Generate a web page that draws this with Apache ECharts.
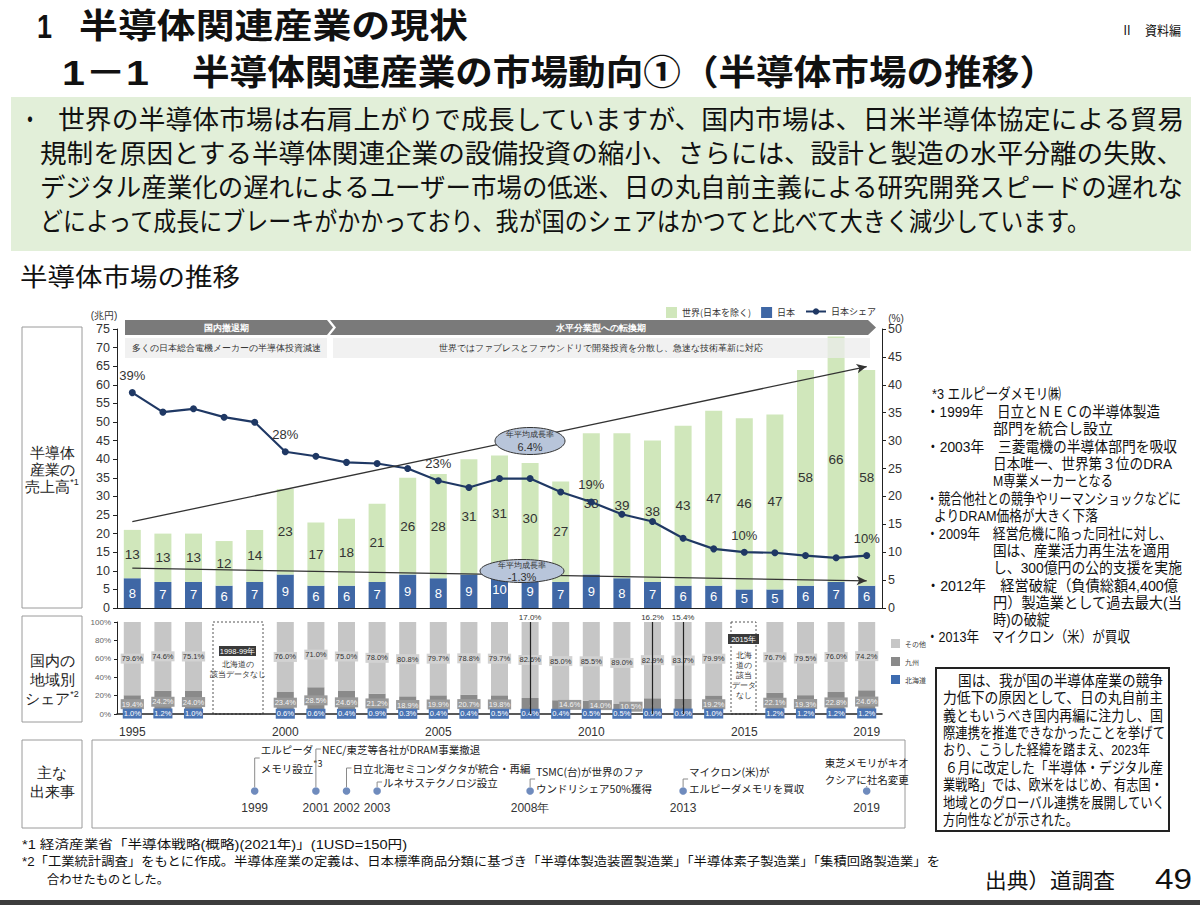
<!DOCTYPE html>
<html><head><meta charset="utf-8">
<script src="https://cdn.jsdelivr.net/npm/echarts@6/dist/echarts.min.js"></script>
<style>
html,body{margin:0;padding:0;background:#fff;}
#wrap{position:relative;width:1200px;height:905px;overflow:hidden;font-family:'Liberation Sans','Noto Sans CJK JP',sans-serif;color:#111;}
#green{position:absolute;left:11px;top:97px;width:1180px;height:154px;background:#e2efd9;}
#chart{position:absolute;left:0;top:0;width:1200px;height:905px;}
#note{position:absolute;left:935px;top:667px;width:231px;height:161px;border:2px solid #222;}
#bottombar{position:absolute;left:0;top:900px;width:1200px;height:5px;background:#3c3c3c;}
.t{position:absolute;white-space:nowrap;line-height:1;transform-origin:0 50%;}
</style></head>
<body><div id="wrap"><div id="green"></div><div id="note"></div><div id="chart"></div><div id="texts"></div><div id="bottombar"></div></div>
<script>
// ---------------- DATA ----------------
const years = ['1995','1996','1997','1998','1999','2000','2001','2002','2003','2004','2005','2006','2007','2008','2009','2010','2011','2012','2013','2014','2015','2016','2017','2018','2019'];
const japanSales = [8,7,7,6,7,9,6,6,7,9,8,9,10,9,7,9,8,7,6,6,5,5,6,7,6];
const worldSales = [13,13,13,12,14,23,17,18,21,26,28,31,31,30,27,38,39,38,43,47,46,47,58,66,58];
const japanShare = [38.6,35.1,35.7,34.2,33.3,28.0,27.2,26.1,25.9,25.0,22.8,21.6,23.2,23.2,20.8,19.0,16.8,15.5,12.5,10.6,10.0,9.9,9.4,9.0,9.4];
const shareLabelYears = ['1995','2000','2005','2010','2015','2019'];
const shareLabelText = ['39%','28%','23%','19%','10%','10%'];
const trendUp = [23.2, 64.9];
const trendDown = [10.7, 7.3];
const growthRates = ['6.4%','-1.3%'];
const otherPct = [79.6,74.6,75.1,null,null,76.0,71.0,75.0,78.0,80.8,79.7,78.8,79.7,82.6,85.0,85.5,89.0,82.9,83.7,79.9,null,76.7,79.5,76.0,74.2];
const kyushuPct = [19.4,24.2,24.0,null,null,23.4,28.5,24.6,21.2,18.9,19.9,20.7,19.8,17.0,14.6,14.0,10.5,16.2,15.4,19.2,null,22.1,19.3,22.8,24.6];
const hokkaidoPct = [1.0,1.2,1.0,null,null,0.6,0.6,0.4,0.9,0.3,0.4,0.4,0.5,0.4,0.4,0.5,0.5,0.9,0.9,1.0,null,1.2,1.2,1.2,1.2];
const kyushuCallout = ['2008','2012','2013'];
const axisYearLabels = ['1995','2000','2005','2010','2015','2019'];
const eventYears = ['1999','2001','2002','2003','2008','2013','2019'];
const eventYearLabels = ['1999','2001','2002','2003','2008年','2013','2019'];
const eventTexts = [
  ['エルピーダ','メモリ設立*3'],
  ['NEC/東芝等各社がDRAM事業撤退'],
  ['日立北海セミコンダクタが統合・再編'],
  ['ルネサステクノロジ設立'],
  ['TSMC(台)が世界のファ','ウンドリシェア50%獲得'],
  ['マイクロン(米)が','エルピーダメモリを買収'],
  ['東芝メモリがキオ','クシアに社名変更']
];

// ---------------- LAYOUT / STYLE ----------------
const FONT = "'Noto Sans CJK JP', sans-serif";
const NUM = "'Liberation Sans', Arial, sans-serif";
const DOT_Y = 791, YEAR_Y = 808;
const eventLayout = [
  {ly:758, tx:6, ty:749, align:'left'},
  {ly:749, tx:6, ty:749, align:'left'},
  {ly:768, tx:6, ty:768, align:'left'},
  {ly:782, tx:6, ty:782, align:'left'},
  {ly:779, tx:6, ty:771, align:'left'},
  {ly:779, tx:6, ty:771, align:'left'},
  {ly:786, tx:0, ty:762, align:'center'}
];

const chart = echarts.init(document.getElementById('chart'), null, {renderer:'svg', width:1200, height:905});

const pctLabel = (bg, color) => ({show:true, position:'inside', fontSize:7.5, color:color, backgroundColor:bg, padding:[1,1], fontFamily:NUM,
  formatter: p => (p.value == null ? '' : Number(p.value).toFixed(1) + '%')});

const option = {
  animation:false,
  textStyle:{fontFamily:FONT},
  grid:[
    {left:117, top:329, width:765, height:279},
    {left:117, top:622, width:765, height:92},
    {left:117, top:740, width:765, height:88}
  ],
  legend:[
    {data:['世界(日本を除く)','日本'], left:661, top:302, itemWidth:11, itemHeight:11, itemGap:10, icon:'rect', selectedMode:false, textStyle:{fontSize:9, color:'#333'}},
    {data:['日本シェア'], left:800, top:302, itemWidth:20, itemHeight:8, selectedMode:false, textStyle:{fontSize:9, color:'#333'}},
    {data:['その他','九州','北海道'], orient:'vertical', left:886, top:634, itemWidth:9, itemHeight:9, itemGap:9, icon:'rect', selectedMode:false, textStyle:{fontSize:7, color:'#444'}}
  ],
  xAxis:[
    {type:'category', gridIndex:0, data:years, axisLine:{lineStyle:{color:'#222', width:1.2}}, axisTick:{show:false}, axisLabel:{show:false}},
    {type:'category', gridIndex:1, data:years, axisLine:{lineStyle:{color:'#222', width:1.5}}, axisTick:{show:false},
      axisLabel:{interval:(i, v) => axisYearLabels.includes(v), fontSize:12, color:'#333', margin:12, fontFamily:NUM}},
    {type:'category', gridIndex:2, data:years, show:false}
  ],
  yAxis:[
    {type:'value', gridIndex:0, min:0, max:75, interval:5, axisLine:{show:true, lineStyle:{color:'#222'}}, axisTick:{show:true, length:4, lineStyle:{color:'#222'}},
      splitLine:{show:false}, axisLabel:{fontSize:12.5, color:'#333', margin:7, fontFamily:NUM}},
    {type:'value', gridIndex:0, position:'right', min:0, max:50, interval:5, axisLine:{show:true, lineStyle:{color:'#222'}}, axisTick:{show:true, length:4, lineStyle:{color:'#222'}},
      splitLine:{show:false}, axisLabel:{fontSize:12.5, color:'#333', margin:6, fontFamily:NUM}},
    {type:'value', gridIndex:1, min:0, max:100, interval:20, axisLine:{show:true, lineStyle:{color:'#222'}}, axisTick:{show:true, length:3, lineStyle:{color:'#222'}},
      splitLine:{show:false}, axisLabel:{formatter:'{value}%', fontSize:8, color:'#666', margin:6, fontFamily:NUM}},
    {type:'value', gridIndex:2, min:0, max:1, show:false}
  ],
  series:[
    {name:'日本', type:'bar', stack:'sales', xAxisIndex:0, yAxisIndex:0, data:japanSales, barWidth:17,
      itemStyle:{color:'#3f67a5'}, label:{show:true, position:'inside', color:'#fff', fontSize:13, fontFamily:NUM}},
    {name:'世界(日本を除く)', type:'bar', stack:'sales', xAxisIndex:0, yAxisIndex:0, data:worldSales, barWidth:17,
      itemStyle:{color:'#d0e7bb'}, label:{show:true, position:'inside', color:'#333', fontSize:13.5, fontFamily:NUM},
      markLine:{silent:true, symbol:['none','arrow'], symbolSize:[7,10], label:{show:false},
        lineStyle:{color:'#333', width:1.3, type:'solid'},
        data:[
          [{coord:[years[0], trendUp[0]]}, {coord:[years[years.length-1], trendUp[1]]}],
          [{coord:[years[0], trendDown[0]]}, {coord:[years[years.length-1], trendDown[1]]}]
        ]}},
    {name:'日本シェア', type:'line', xAxisIndex:0, yAxisIndex:1, data:japanShare, symbol:'circle', symbolSize:7,
      lineStyle:{color:'#1f3864', width:2.2}, itemStyle:{color:'#1f3864'}, z:4,
      label:{show:true, position:'top', distance:7, fontSize:13, color:'#333', fontFamily:NUM,
        formatter:p => { const k = shareLabelYears.indexOf(p.name); return k >= 0 ? shareLabelText[k] : ''; }}},
    {name:'北海道', type:'bar', stack:'pct', xAxisIndex:1, yAxisIndex:2, data:hokkaidoPct, barWidth:17,
      itemStyle:{color:'#3d6cb0'}, label:pctLabel('#4a74b4','#fff'), z:3},
    {name:'九州', type:'bar', stack:'pct', xAxisIndex:1, yAxisIndex:2, barWidth:17,
      data: kyushuPct.map(v => (v != null && v < 15) ? {value:v, label:{offset:[9,-2]}} : v),
      itemStyle:{color:'#8a8a8a'},
      label:Object.assign(pctLabel('#9a9a9a','#f2f2f2'), {formatter: p => (p.value == null || kyushuCallout.includes(p.name)) ? '' : Number(p.value).toFixed(1) + '%'}),
      markLine:{silent:true, symbol:'none', lineStyle:{color:'#222', width:1.2, type:'solid'},
        label:{show:true, position:'end', distance:1, fontSize:8, color:'#333', fontFamily:NUM, formatter:'{b}'},
        data: kyushuCallout.map(y => { const i = years.indexOf(y); return [{coord:[y, 0], name: kyushuPct[i].toFixed(1) + '%'}, {coord:[y, 100]}]; })}},
    {name:'その他', type:'bar', stack:'pct', xAxisIndex:1, yAxisIndex:2, data:otherPct, barWidth:17,
      itemStyle:{color:'#c6c6c6'}, label:pctLabel('#d2d2d2','#333')},
    {name:'events', type:'custom', xAxisIndex:2, yAxisIndex:3, silent:true, z:5,
      data: eventYears.map(y => [y, 0]),
      renderItem:(params, api) => {
        const i = params.dataIndex;
        const x = api.coord([api.value(0), 0])[0];
        const L = eventLayout[i];
        const pts = L.align === 'center' ? [[x, DOT_Y - 4], [x, L.ly]] : [[x, DOT_Y - 4], [x, L.ly], [x + 5, L.ly]];
        const children = [
          {type:'polyline', shape:{points:pts}, style:{stroke:'#8a8a8a', lineWidth:1, fill:null}},
          {type:'circle', shape:{cx:x, cy:DOT_Y, r:3.8}, style:{fill:'#6f8bbd'}},
          {type:'text', style:{text:eventYearLabels[i], x:x, y:YEAR_Y, textAlign:'center', textVerticalAlign:'middle', fontSize:12, fontFamily:NUM, fill:'#333'}}
        ];
        eventTexts[i].forEach((t, k) => {
          const m = t.match(/^(.*)(\*\d)$/);
          const style = {x:x + L.tx, y:L.ty + k * 17, textAlign:L.align, textVerticalAlign:'middle', fontSize:10.5, fontFamily:FONT, fill:'#222'};
          if (m) {
            style.text = '{a|' + m[1] + '}{b|' + m[2] + '}';
            style.rich = {a:{fontSize:10.5, fontFamily:FONT, fill:'#222', lineHeight:15, verticalAlign:'bottom'},
                          b:{fontSize:9, fontFamily:FONT, fill:'#222', lineHeight:15, verticalAlign:'top'}};
          } else style.text = t;
          children.push({type:'text', style});
        });
        return {type:'group', children};
      }}
  ],
  graphic:[
    // left label boxes
    {type:'rect', shape:{x:22, y:327, width:60, height:281}, style:{fill:'none', stroke:'#9a9a9a', lineWidth:1}},
    {type:'text', x:52, y:452, style:{text:'半導体', fontSize:15, fill:'#222', textAlign:'center', textVerticalAlign:'middle'}},
    {type:'text', x:52, y:469, style:{text:'産業の', fontSize:15, fill:'#222', textAlign:'center', textVerticalAlign:'middle'}},
    {type:'text', x:52, y:486, style:{text:'{a|売上高}{b|*1}', rich:{a:{fontSize:15, fill:'#222'}, b:{fontSize:9, fill:'#222', padding:[0,0,8,0]}}, textAlign:'center', textVerticalAlign:'middle'}},
    {type:'rect', shape:{x:22, y:616, width:60, height:106}, style:{fill:'none', stroke:'#9a9a9a', lineWidth:1}},
    {type:'text', x:52, y:660, style:{text:'国内の', fontSize:15, fill:'#222', textAlign:'center', textVerticalAlign:'middle'}},
    {type:'text', x:52, y:679, style:{text:'地域別', fontSize:15, fill:'#222', textAlign:'center', textVerticalAlign:'middle'}},
    {type:'text', x:52, y:698, style:{text:'{a|シェア}{b|*2}', rich:{a:{fontSize:15, fill:'#222'}, b:{fontSize:9, fill:'#222', padding:[0,0,8,0]}}, textAlign:'center', textVerticalAlign:'middle'}},
    {type:'rect', shape:{x:22, y:740, width:60, height:88}, style:{fill:'none', stroke:'#9a9a9a', lineWidth:1}},
    {type:'text', x:52, y:772, style:{text:'主な', fontSize:15, fill:'#222', textAlign:'center', textVerticalAlign:'middle'}},
    {type:'text', x:52, y:791, style:{text:'出来事', fontSize:15, fill:'#222', textAlign:'center', textVerticalAlign:'middle'}},
    {type:'rect', shape:{x:92, y:740, width:813, height:88}, style:{fill:'none', stroke:'#9a9a9a', lineWidth:1}},
    // axis units
    {type:'text', x:104, y:315, style:{text:'(兆円)', fontSize:10, fill:'#333', textAlign:'center', textVerticalAlign:'middle'}},
    {type:'text', x:896, y:318, style:{text:'(%)', fontSize:10, fill:'#333', textAlign:'center', textVerticalAlign:'middle'}},
    // period bands
    {type:'polygon', z:50, shape:{points:[[125,320],[327,320],[333,327.5],[327,335],[125,335]]}, style:{fill:'#7a7a7a'}},
    {type:'text', z:51, x:226, y:327.5, style:{text:'国内撤退期', fontSize:9, fontWeight:'bold', fill:'#fff', textAlign:'center', textVerticalAlign:'middle'}},
    {type:'polygon', z:50, shape:{points:[[330,320],[868,320],[876,327.5],[868,335],[330,335],[336,327.5]]}, style:{fill:'#7a7a7a'}},
    {type:'text', z:51, x:601, y:327.5, style:{text:'水平分業型への転換期', fontSize:9, fontWeight:'bold', fill:'#fff', textAlign:'center', textVerticalAlign:'middle'}},
    {type:'rect', z:50, shape:{x:125, y:338, width:202, height:20}, style:{fill:'rgba(236,236,236,0.75)'}},
    {type:'text', z:51, x:226, y:348, style:{text:'多くの日本総合電機メーカーの半導体投資減速', fontSize:8.5, fill:'#333', textAlign:'center', textVerticalAlign:'middle'}},
    {type:'rect', z:50, shape:{x:333, y:338, width:537, height:20}, style:{fill:'rgba(236,236,236,0.75)'}},
    {type:'text', z:51, x:601, y:348, style:{text:'世界ではファブレスとファウンドリで開発投資を分散し、急速な技術革新に対応', fontSize:8.5, fill:'#333', textAlign:'center', textVerticalAlign:'middle'}},
    // growth ellipses
    {type:'ellipse', z:60, shape:{cx:530, cy:441, rx:35, ry:13.5}, style:{fill:'#b8c5da', stroke:'#333', lineWidth:1}},
    {type:'text', z:61, x:530, y:434, style:{text:'年平均成長率', fontSize:7.5, fill:'#333', textAlign:'center', textVerticalAlign:'middle'}},
    {type:'text', z:61, x:530, y:447, style:{text:growthRates[0], fontSize:11, fill:'#333', fontFamily:NUM, textAlign:'center', textVerticalAlign:'middle'}},
    {type:'ellipse', z:60, shape:{cx:522, cy:571, rx:42, ry:11.5}, style:{fill:'#b8c5da', stroke:'#333', lineWidth:1}},
    {type:'text', z:61, x:522, y:565, style:{text:'年平均成長率', fontSize:7.5, fill:'#333', textAlign:'center', textVerticalAlign:'middle'}},
    {type:'text', z:61, x:522, y:577, style:{text:growthRates[1], fontSize:11, fill:'#333', fontFamily:NUM, textAlign:'center', textVerticalAlign:'middle'}},
    // missing-data boxes
    {type:'rect', shape:{x:213, y:622, width:50, height:92}, style:{fill:'#fff', stroke:'#555', lineWidth:1, lineDash:[2,2]}},
    {type:'rect', shape:{x:219, y:646, width:37, height:10}, style:{fill:'#3a3a3a'}},
    {type:'text', x:237.5, y:651, style:{text:'1998-99年', fontSize:7.5, fill:'#fff', textAlign:'center', textVerticalAlign:'middle'}},
    {type:'text', x:238, y:664, style:{text:'北海道の', fontSize:7.5, fill:'#333', textAlign:'center', textVerticalAlign:'middle'}},
    {type:'text', x:238, y:674, style:{text:'該当データなし', fontSize:7.5, fill:'#333', textAlign:'center', textVerticalAlign:'middle'}},
    {type:'rect', shape:{x:731, y:622, width:25, height:92}, style:{fill:'#fff', stroke:'#555', lineWidth:1, lineDash:[2,2]}},
    {type:'rect', shape:{x:728, y:634, width:31, height:10}, style:{fill:'#3a3a3a'}},
    {type:'text', x:743.5, y:639, style:{text:'2015年', fontSize:7.5, fill:'#fff', textAlign:'center', textVerticalAlign:'middle'}},
    {type:'text', x:743.5, y:655, style:{text:'北海', fontSize:7.5, fill:'#333', textAlign:'center', textVerticalAlign:'middle'}},
    {type:'text', x:743.5, y:665, style:{text:'道の', fontSize:7.5, fill:'#333', textAlign:'center', textVerticalAlign:'middle'}},
    {type:'text', x:743.5, y:675, style:{text:'該当', fontSize:7.5, fill:'#333', textAlign:'center', textVerticalAlign:'middle'}},
    {type:'text', x:743.5, y:685, style:{text:'データ', fontSize:7.5, fill:'#333', textAlign:'center', textVerticalAlign:'middle'}},
    {type:'text', x:743.5, y:695, style:{text:'なし', fontSize:7.5, fill:'#333', textAlign:'center', textVerticalAlign:'middle'}}
  ]
};
chart.setOption(option);

// ---------------- SLIDE TEXT ----------------
// [text, x, yCenter, fontSize, targetWidth, weight]
const TEXT_LINES = [
  ['1', 37, 25, 34, 15, 700],
  ['半導体関連産業の現状', 79, 25, 34, 389, 700],
  ['1－1', 62, 71, 35, 87, 700],
  ['半導体関連産業の市場動向①（半導体市場の推移）', 192, 71, 35, 865, 700],
  ['Ⅱ　資料編', 1121, 30, 13, 60, 400],
  ['・', 20, 119, 26, 20, 400],
  ['世界の半導体市場は右肩上がりで成長していますが、国内市場は、日米半導体協定による貿易', 58, 119, 26, 1126, 400],
  ['規制を原因とする半導体関連企業の設備投資の縮小、さらには、設計と製造の水平分離の失敗、', 40, 153, 26, 1143, 400],
  ['デジタル産業化の遅れによるユーザー市場の低迷、日の丸自前主義による研究開発スピードの遅れな', 40, 187, 26, 1143, 400],
  ['どによって成長にブレーキがかかっており、我が国のシェアはかつてと比べて大きく減少しています。', 40, 221, 26, 1050, 400],
  ['半導体市場の推移', 20, 277, 25, 220, 400],
  ['*3 エルピーダメモリ㈱', 932, 393, 15, 129, 400],
  ['・1999年　日立とＮＥＣの半導体製造', 926, 411, 15, 234, 400],
  ['部門を統合し設立', 993, 428, 15, 120, 400],
  ['・2003年　三菱電機の半導体部門を吸収', 926, 446, 15, 251, 400],
  ['日本唯一、世界第３位のDRA', 993, 463, 15, 179, 400],
  ['M専業メーカーとなる', 993, 480, 15, 120, 400],
  ['・競合他社との競争やリーマンショックなどに', 926, 498, 15, 255, 400],
  ['よりDRAM価格が大きく下落', 934, 515, 15, 164, 400],
  ['・2009年　経営危機に陥った同社に対し、', 926, 533, 15, 246, 400],
  ['国は、産業活力再生法を適用', 993, 550, 15, 177, 400],
  ['し、300億円の公的支援を実施', 993, 567, 15, 189, 400],
  ['・2012年　経営破綻（負債総額4,400億', 926, 585, 15, 252, 400],
  ['円）製造業として過去最大(当', 993, 602, 15, 189, 400],
  ['時)の破綻', 993, 619, 15, 57, 400],
  ['・2013年　マイクロン（米）が買収', 926, 636, 15, 204, 400],
  ['国は、我が国の半導体産業の競争', 958, 680, 15, 205, 400],
  ['力低下の原因として、日の丸自前主', 943, 697, 15, 220, 400],
  ['義ともいうべき国内再編に注力し、国', 943, 715, 15, 220, 400],
  ['際連携を推進できなかったことを挙げて', 943, 732, 15, 222, 400],
  ['おり、こうした経緯を踏まえ、2023年', 943, 749, 15, 207, 400],
  ['６月に改定した「半導体・デジタル産', 945, 767, 15, 218, 400],
  ['業戦略」では、欧米をはじめ、有志国・', 943, 784, 15, 220, 400],
  ['地域とのグローバル連携を展開していく', 943, 802, 15, 222, 400],
  ['方向性などが示された。', 943, 819, 15, 135, 400],
  ['*1 経済産業省「半導体戦略(概略)(2021年)」(1USD=150円)', 22, 845, 12.5, 385, 400],
  ['*2「工業統計調査」をもとに作成。半導体産業の定義は、日本標準商品分類に基づき「半導体製造装置製造業」「半導体素子製造業」「集積回路製造業」を', 22, 862, 12.5, 918, 400],
  ['合わせたものとした。', 47, 880, 12.5, 122, 400],
  ['出典）道調査', 985, 880, 21, 130, 400],
  ['49', 1155, 879, 29, 37, 400]
];
const host = document.getElementById('texts');
const els = TEXT_LINES.map(([txt, x, y, size, w, wt]) => {
  const d = document.createElement('div');
  d.className = 't';
  d.textContent = txt;
  d.style.left = x + 'px';
  d.style.top = (y - size * 0.47) + 'px';
  d.style.fontSize = size + 'px';
  d.style.fontWeight = wt;
  host.appendChild(d);
  return [d, w];
});
function fit() {
  els.forEach(([d, w]) => {
    d.style.transform = 'none';
    const r = d.getBoundingClientRect().width;
    if (r > 0) d.style.transform = 'scaleX(' + (w / r) + ')';
  });
}
fit();
if (document.fonts && document.fonts.ready) document.fonts.ready.then(fit);
</script>
</body></html>
